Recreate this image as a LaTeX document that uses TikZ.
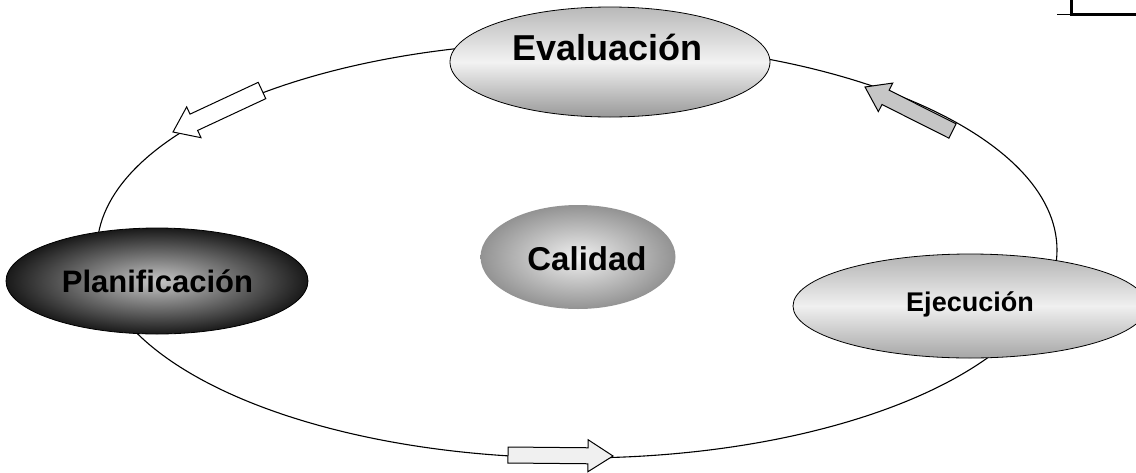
\documentclass[tikz,border=0pt]{standalone}
\usepackage{fontspec}
\setmainfont{Liberation Sans}
\usetikzlibrary{shapes.geometric,calc}
\tikzset{
  stage/.style={ellipse, draw=black, line width=0.8pt, inner sep=0pt},
  lbl/.style={font=\bfseries, text=black, inner sep=0pt},
  ring/.style={ellipse, draw=black, line width=1.1pt, inner sep=0pt},
  blk/.style={draw=black, line width=1pt, line join=miter},
}
\newcommand{\blockarr}[7]{%
  \coordinate (#1n) at ($(#3)!#6!(#2)$);
  \draw[blk,#7] ($(#2)!#4!90:(#3)$) -- ($(#1n)!#4!90:(#3)$) -- ($(#1n)!#5!90:(#3)$) -- (#3)
    -- ($(#1n)!#5!-90:(#3)$) -- ($(#1n)!#4!-90:(#3)$) -- ($(#2)!#4!-90:(#3)$) -- cycle;}
\begin{document}
\begin{tikzpicture}[x=1pt,y=-1pt]
\useasboundingbox (0,0) rectangle (1136,472);
\clip (0,0) rectangle (1136,472);
\fill[white] (0,0) rectangle (1136,472);

% cycle
\node[ring, minimum width=960pt, minimum height=416pt] (cyc) at (577,250) {};

% stages
\node[stage, minimum width=320pt, minimum height=110pt,
  top color=gray!55, bottom color=gray!80, middle color=gray!10] (evalE) at (610,62) {};
\node[lbl, font=\bfseries\fontsize{36}{40}\selectfont] (evalT) at (607.5,47) {Evaluación};

\node[stage, minimum width=302pt, minimum height=106pt,
  shading=radial, inner color=gray!45, outer color=black!90] (planE) at (157,281) {};
\node[lbl, font=\bfseries\fontsize{31}{35}\selectfont] (planT) at (157.5,281) {Planificación};

\node[stage, draw=none, minimum width=195pt, minimum height=104pt,
  shading=radial, inner color=gray!12, outer color=gray!85] (calE) at (578,257) {};
\node[lbl, font=\bfseries\fontsize{33}{37}\selectfont] (calT) at (587,259) {Calidad};

\node[stage, minimum width=354pt, minimum height=104pt,
  top color=gray!60, bottom color=gray!70, middle color=gray!12] (ejeE) at (970,306) {};
\node[lbl, font=\bfseries\fontsize{27}{31}\selectfont] (ejeT) at (970,304) {Ejecución};

% block arrows on the cycle
\coordinate (a1t) at (262,90.5);  \coordinate (a1p) at (173,132);
\blockarr{a1}{a1t}{a1p}{9pt}{17pt}{23pt}{fill=white}
\coordinate (a2t) at (952.5,131); \coordinate (a2p) at (865,87);
\blockarr{a2}{a2t}{a2p}{8pt}{16pt}{23pt}{fill=gray!45}
\coordinate (a3t) at (508,455);   \coordinate (a3p) at (613,456);
\blockarr{a3}{a3t}{a3p}{8pt}{16pt}{25pt}{fill=gray!12}

% fragment of a box at top right
\draw[line width=3pt] (1071,0) -- (1071,14) -- (1136,14);
\draw[line width=1pt] (1057,14) -- (1071,14);
\end{tikzpicture}
\end{document}
